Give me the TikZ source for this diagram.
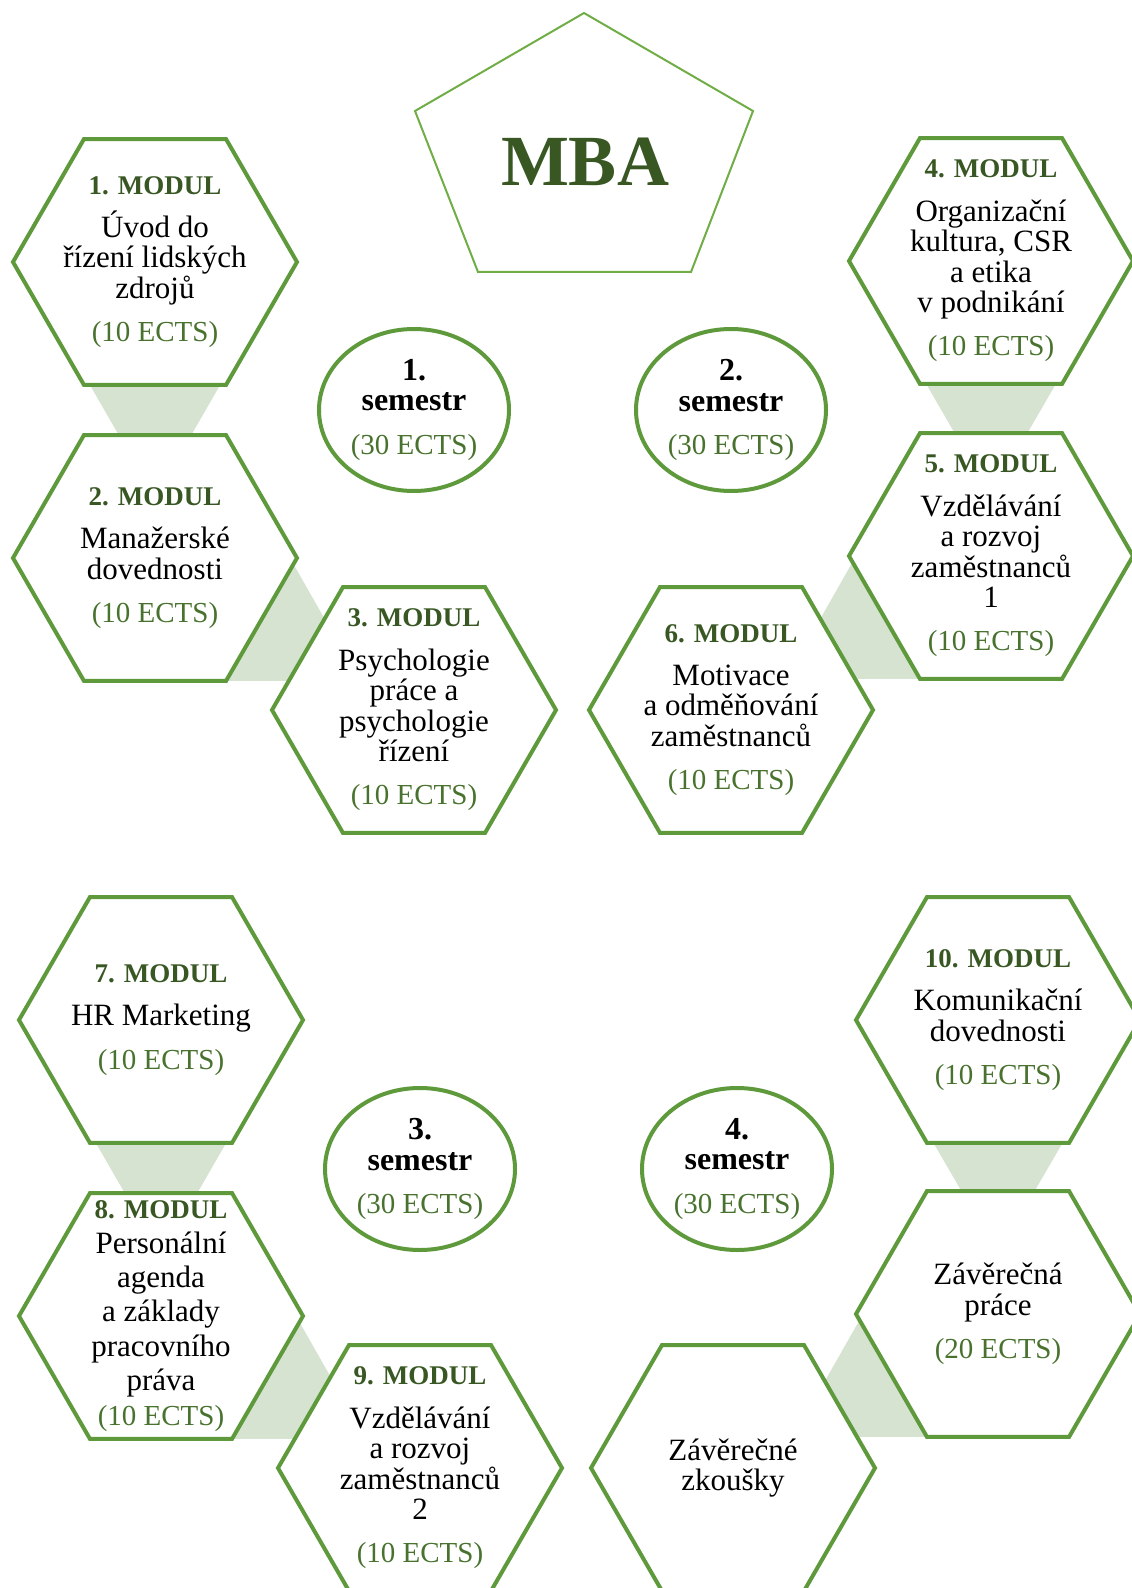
\documentclass[tikz,border=0pt]{standalone}
\usepackage{fontspec}
\setmainfont{Liberation Serif}
\usetikzlibrary{positioning,shapes.geometric,backgrounds}
\definecolor{hexgreen}{RGB}{94,154,60}
\definecolor{darkgreen}{RGB}{56,87,35}
\definecolor{ectsgreen}{RGB}{72,114,46}
\definecolor{pentagreen}{RGB}{112,173,71}
\definecolor{wedgegreen}{RGB}{214,227,208}
\newcommand{\modtitle}[1]{{\fontsize{13.5}{15.2}\selectfont\bfseries\textcolor{darkgreen}{#1}}}
\newcommand{\semtitle}[1]{{\fontsize{16}{15.2}\selectfont\bfseries #1}}
\newcommand{\ects}[1]{{\fontsize{14.5}{15.2}\selectfont\textcolor{ectsgreen}{(#1 ECTS)}}}
\tikzset{hex node/.style={regular polygon,regular polygon sides=6,draw=hexgreen,line width=2pt,fill=white,minimum size=142pt,inner sep=0pt,outer sep=0pt},
  hex text/.style={align=center,inner sep=0pt,font=\fontsize{15.5}{15.2}\selectfont},
  sem node/.style={ellipse,draw=hexgreen,line width=2pt,fill=white,minimum width=95pt,minimum height=81pt,inner sep=0pt,align=center,font=\fontsize{15.5}{15.2}\selectfont},
  wedge/.style={fill=wedgegreen},
}

\begin{document}
\begin{tikzpicture}[x=0.5pt,y=-0.5pt,node distance=148pt,on grid]
	\useasboundingbox (0,0) rectangle (1131,1588);
	\draw[pentagreen,line width=1pt] (584,13) -- (753,111) -- (691,272) -- (478,272) -- (415,111) -- cycle;
	\node[font=\fontsize{36}{40}\selectfont\bfseries,text=darkgreen] (mba) at (585,162) {MBA};
	
	% 1. semestr
	\node[hex node,label={[hex text]center:{\modtitle{1. MODUL}\\[6.5pt] Úvod do\\ řízení lidských\\ zdrojů\\[6.5pt] \ects{10}}}] (m1) at (155,262) {};
	\node[hex node,below=of m1,label={[hex text]center:{\modtitle{2. MODUL}\\[6.5pt] Manažerské\\ dovednosti\\[6.5pt] \ects{10}}}] (m2) {};
	\node[hex node,below right=76pt and 129.5pt of m2,label={[hex text]center:{\modtitle{3. MODUL}\\[6.5pt] Psychologie\\ práce a\\ psychologie\\ řízení\\[6.5pt] \ects{10}}}] (m3) {};
	\node[sem node,above=150pt of m3] (s1) {\semtitle{1.}\\ \semtitle{semestr}\\[6.5pt] \ects{30}};
	
	% 2. semestr
	\node[hex node,label={[hex text]center:{\modtitle{4. MODUL}\\[6.5pt] Organizační\\ kultura, CSR\\ a etika\\ v podnikání\\[6.5pt] \ects{10}}}] (m4) at (991,261) {};
	\node[hex node,below=147.5pt of m4,label={[hex text]center:{\modtitle{5. MODUL}\\[6.5pt] Vzdělávání\\ a rozvoj\\ zaměstnanců\\ 1\\[6.5pt] \ects{10}}}] (m5) {};
	\node[hex node,below left=77pt and 130pt of m5,label={[hex text]center:{\modtitle{6. MODUL}\\[6.5pt] Motivace\\ a odměňování\\ zaměstnanců\\[6.5pt] \ects{10}}}] (m6) {};
	\node[sem node,above=150pt of m6] (s2) {\semtitle{2.}\\ \semtitle{semestr}\\[6.5pt] \ects{30}};
	
	% 3. semestr
	\node[hex node,label={[hex text]center:{\modtitle{7. MODUL}\\[6.5pt] HR Marketing\\[6.5pt] \ects{10}}}] (m7) at (161,1020) {};
	\node[hex node,below=of m7,label={[hex text,font=\fontsize{15.5}{17.2}\selectfont]center:{\modtitle{8. MODUL}\\ Personální\\ agenda\\ a základy\\ pracovního\\ práva\\ \ects{10}}}] (m8) {};
	\node[hex node,below right=76pt and 129.5pt of m8,label={[hex text]center:{\modtitle{9. MODUL}\\[6.5pt] Vzdělávání\\ a rozvoj\\ zaměstnanců\\ 2\\[6.5pt] \ects{10}}}] (m9) {};
	\node[sem node,above=149.5pt of m9] (s3) {\semtitle{3.}\\ \semtitle{semestr}\\[6.5pt] \ects{30}};
	
	% 4. semestr
	\node[hex node,label={[hex text]center:{\modtitle{10. MODUL}\\[6.5pt] Komunikační\\ dovednosti\\[6.5pt] \ects{10}}}] (m10) at (998,1020) {};
	\node[hex node,below=147pt of m10,label={[hex text]center:{Závěrečná\\ práce\\[6.5pt] \ects{20}}}] (zp) {};
	\node[hex node,below left=77pt and 132.5pt of zp,label={[hex text]center:{Závěrečné\\ zkoušky}}] (zz) {};
	\node[sem node,above=149.5pt of zz,xshift=2pt] (s4) {\semtitle{4.}\\ \semtitle{semestr}\\[6.5pt] \ects{30}};
	
	\begin{scope}[on background layer]
	\fill[wedge] ([xshift=3pt]m1.corner 3) -- ([xshift=-3pt]m1.corner 6) -- ([yshift=30pt]m2.center) -- cycle;
	\fill[wedge] ([xshift=-3.5pt]m2.corner 6) -- ([xshift=67pt]m2.corner 5) -- ([xshift=-3pt]m2.corner 5) -- cycle;
	\fill[wedge] ([xshift=3pt]m4.corner 3) -- ([xshift=-3pt]m4.corner 6) -- ([yshift=30pt]m5.center) -- cycle;
	\fill[wedge] ([xshift=3.5pt]m5.corner 3) -- ([xshift=-67pt]m5.corner 4) -- ([xshift=3pt]m5.corner 4) -- cycle;
	\fill[wedge] ([xshift=3pt]m7.corner 3) -- ([xshift=-3pt]m7.corner 6) -- ([yshift=30pt]m8.center) -- cycle;
	\fill[wedge] ([xshift=-3.5pt]m8.corner 6) -- ([xshift=67pt]m8.corner 5) -- ([xshift=-3pt]m8.corner 5) -- cycle;
	\fill[wedge] ([xshift=3pt]m10.corner 3) -- ([xshift=-3pt]m10.corner 6) -- ([yshift=30pt]zp.center) -- cycle;
	\fill[wedge] ([xshift=3.5pt]zp.corner 3) -- ([xshift=-67pt]zp.corner 4) -- ([xshift=3pt]zp.corner 4) -- cycle;
	\end{scope}
\end{tikzpicture}
\end{document}
